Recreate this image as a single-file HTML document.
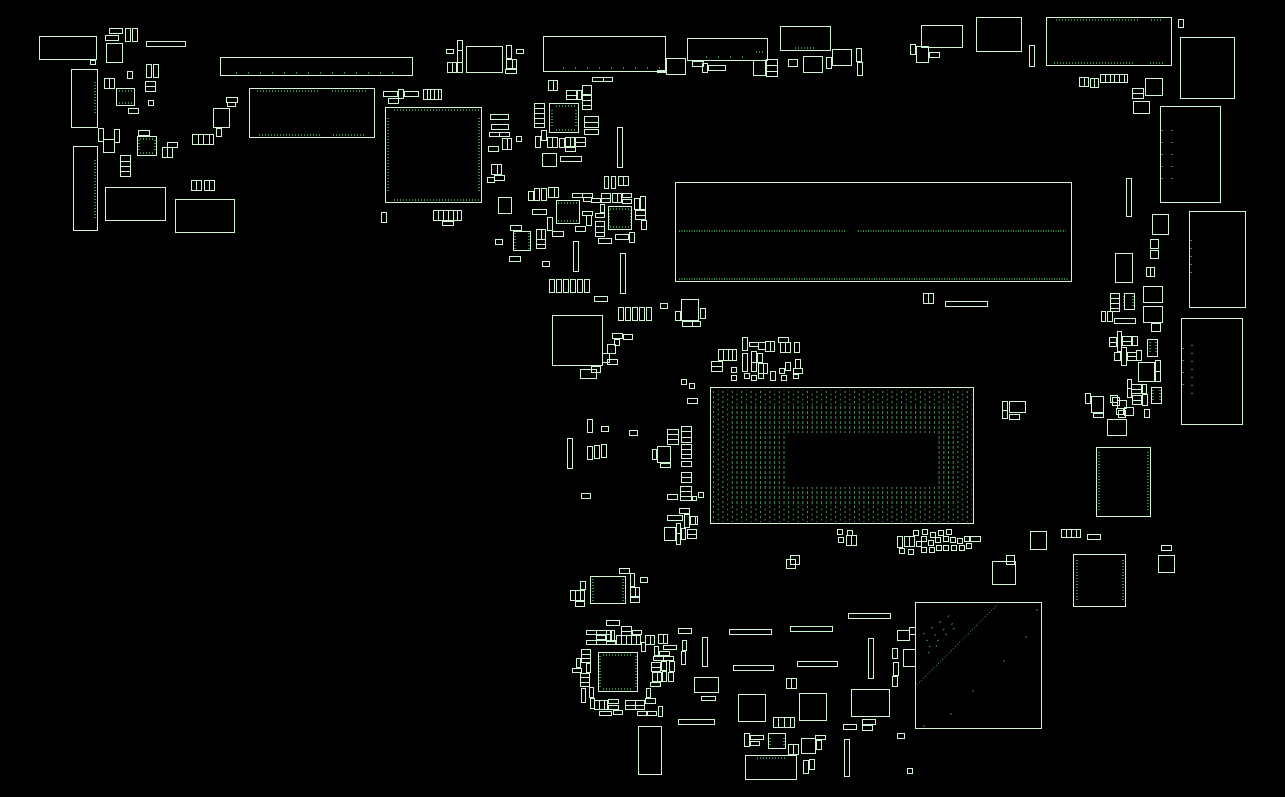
<!DOCTYPE html>
<html lang="en"><head><meta charset="utf-8"><title>PCB layout</title>
<style>html,body{margin:0;padding:0;background:#000;width:1285px;height:797px;overflow:hidden}svg{display:block}</style></head>
<body>
<svg xmlns="http://www.w3.org/2000/svg" width="1285" height="797" viewBox="0 0 1285 797">
<defs>
<pattern id="a" width="9.4" height="5" patternUnits="userSpaceOnUse" x="713" y="391"><rect width="1" height="2" fill="#4a9a58"/><rect x="4.7" y="2.5" width="1" height="2" fill="#3f8f4e"/></pattern>
<pattern id="b" width="4.7" height="5" patternUnits="userSpaceOnUse" x="713" y="391"><rect width="1" height="3" fill="#3f8f4e"/></pattern>
</defs>
<rect width="1285" height="797" fill="#000"/>
<g shape-rendering="crispEdges">
<path fill="url(#a)" fill-rule="evenodd" d="M712 390H972V522H712ZM728 405V505H956V405Z"/>
<path fill="url(#b)" fill-rule="evenodd" d="M728 405H956V505H728ZM787 433V487H938V433Z"/>
<g fill="none" stroke="#2f8a45" stroke-width="1">
<path stroke-width="2" stroke-dasharray="1 1.5" d="M679 231H846M858 231H1066M679 279H1068"/>
<path stroke-width="2" stroke-dasharray="1 2" d="M1056 20H1138M1151 20H1162M1054 63H1135M1150 63H1163M257 91H318M332 91H367M259 135H321M333 135H364M394 110H480M394 200H480M388 118V192M479 118V192M95 82V115M95 160V218"/>
<path stroke-width="2" stroke-dasharray="1 11" d="M236 73H396M563 68H660M706 57H750M1162 130V180M1172 130V180M1183 348V395"/>
<path stroke-width="2" stroke-dasharray="1 7" d="M1192 345V400M1191 240V280"/>
<path stroke-width="2" stroke-dasharray="1 2" d="M795 48H816M756 52H764M556 106H575M556 130H575M552 110V128M576 110V128M140 139H155M140 153H155M139 140V152M155 140V152M119 91H133M119 103H133M593 579V601M623 579V601M603 655H632M603 689H632M600 656V688M636 656V688M558 203H578M558 221H578M610 209H630M610 227H630M609 210V226M631 210V226M515 233V249M529 233V249M1099 452V512M1148 452V512M1077 560V602M1123 560V602M757 758H785M770 738V746M784 738V746M1124 296V306M1133 296V306M1150 342V354M1156 342V354M1153 390V402M1160 390V402"/>
<path stroke-width="1" stroke-dasharray="1 2" d="M917 685L998 604"/>
<path stroke-width="1" stroke-dasharray="2 8" d="M923 634L950 615M926 641L955 622M929 647L960 624M928 653L944 640M1037 609V612M1026 636V639M1004 660V663M973 690V693M951 713V716M924 725V728"/>
</g>
</g>
<path transform="translate(.5 .5)" fill="none" stroke="#d0f5d4" stroke-width="1" shape-rendering="crispEdges" d="
M39 36H96V59H39ZM90 60H95V64H90ZM109 28H122V33H109ZM105 35H118V40H105ZM125 28H130V41H125ZM132 28H137V41H132ZM146 41H185V46H146ZM106 43H122V62H106ZM71 69H97V127H71ZM104 78H114V88H104ZM109 78V88M127 71H132V78H127ZM146 64H151V77H146ZM153 64H158V77H153ZM145 81H155V91H145ZM145 86H155M116 88H134V105H116ZM148 100H153V105H148ZM128 108H138V113H128ZM98 128H103V141H98ZM114 129H119V142H114ZM103 139H114V152H103ZM138 130H149V135H138ZM137 136H156V155H137ZM167 142H177V147H167ZM162 147H172V157H162ZM167 147V157M192 134H213V144H192ZM198 134V144M203 134V144M209 134V144M120 155H130V176H120ZM120 161H130M120 166H130M120 171H130M73 146H97V230H73ZM105 187H165V220H105ZM175 199H234V232H175ZM191 180H201V190H191ZM196 180V190M204 180H214V190H204ZM209 180V190M220 57H412V75H220ZM249 88H374V137H249ZM213 108H229V127H213ZM226 97H237V102H226ZM227 102H235V106H227ZM216 128H221V136H216ZM385 107H481V202H385ZM383 91H397V96H383ZM398 89H403V98H398ZM404 91H418V96H404ZM388 98H398V103H388ZM423 89H441V99H423ZM427 89V99M430 89V99M434 89V99M438 89V99M381 212H386V222H381Z
M446 49H453V53H446ZM457 40H462V72H457ZM457 50H462M457 62H462M447 62H456V72H447ZM452 62V72M466 46H502V72H466ZM506 45H511V58H506ZM506 59H516V68H506ZM512 59V68M505 69H516V73H505ZM516 49H523V53H516ZM543 36H665V71H543ZM592 77H612V81H592ZM603 77V81M548 80H557V90H548ZM553 80V90M566 90H576V99H566ZM566 95H576M577 90H581V99H577ZM582 85H591V94H582ZM582 95H591V109H582ZM582 100H591M582 105H591M534 103H544V127H534ZM534 108H544M534 113H544M534 118H544M534 123H544M549 103H578V132H549ZM584 116H598V127H584ZM584 122H598M584 129H598V134H584ZM535 136H540V147H535ZM541 130H546V140H541ZM547 137H557V147H547ZM552 137V147M559 138H564V147H559ZM565 137H574V146H565ZM570 137V146M575 137H585V146H575ZM575 142H585M565 147H575V151H565ZM542 153H556V166H542ZM560 156H581V161H560ZM617 127H622V167H617ZM490 114H508V119H490ZM491 124H508V129H491ZM489 132H509V136H489ZM499 132V136M502 138H511V149H502ZM507 138V149M516 136H521V141H516ZM488 146H498V151H488ZM491 164H501V174H491ZM497 164V174M494 175H504V180H494ZM487 177H494V182H487ZM433 210H461V220H433ZM438 210V220M443 210V220M448 210V220M453 210V220M457 210V220M442 221H453V225H442ZM498 197H511V213H498ZM528 191H533V200H528ZM534 188H539V200H534ZM541 188H546V200H541ZM548 187H558V197H548ZM554 187V197M532 209H546V214H532ZM556 200H579V223H556ZM572 193H592V197H572ZM582 193V197M583 197H591V201H583ZM591 198H600V202H591ZM601 193H610V202H601ZM601 198H610M612 193H621V202H612ZM617 193V202M622 193H631V197H622ZM622 199H631V203H622ZM604 176H608V188H604ZM611 176H615V188H611ZM618 176H628V185H618ZM623 176V185M634 198H639V209H634ZM640 196H645V209H640ZM635 210H645V219H635ZM635 215H645M641 220H646V229H641ZM608 206H631V229H608ZM582 211H592V215H582ZM600 204H604V212H600ZM595 213H604V217H595ZM586 215H591V225H586ZM595 221H604V236H595ZM595 226H604M595 232H604M575 226H585V231H575ZM547 217H552V230H547ZM552 231H563V236H552ZM536 229H545V248H536ZM541 229V239M536 239H545M536 244H545M510 225H521V230H510ZM513 231H530V250H513ZM495 239H502V244H495ZM509 256H520V261H509ZM542 261H549V266H542ZM573 241H578V271H573ZM598 238H611V243H598ZM615 234H628V239H615ZM629 232H634V242H629ZM549 279H554V292H549ZM556 279H561V292H556ZM563 279H568V292H563ZM570 279H575V292H570ZM577 279H582V292H577ZM584 279H589V292H584ZM620 253H625V293H620ZM594 296H607V301H594Z
M618 307H623V320H618ZM625 307H630V320H625ZM632 307H637V320H632ZM639 307H644V320H639ZM646 307H651V320H646ZM660 303H667V308H660ZM681 299H698V320H681ZM675 311H680V320H675ZM700 308H705V318H700ZM682 321H700V326H682ZM692 321V326M552 315H602V365H552ZM612 333H622V338H612ZM623 334H632V339H623ZM614 339H619V345H614ZM607 344H615V353H607ZM602 353H609V362H602ZM607 359H617V364H607ZM591 366H600V372H591ZM580 369H596V378H580ZM681 379H686V384H681ZM689 383H694V388H689ZM687 398H697V403H687ZM587 419H592V432H587ZM601 426H608V431H601ZM629 430H637V435H629ZM567 438H572V468H567ZM587 446H592V459H587ZM594 445H599V458H594ZM601 444H606V457H601ZM581 493H590V498H581ZM667 429H678V444H667ZM667 434H678M667 439H678M681 426H691V442H681ZM681 431H691M681 437H691M681 444H691V458H681ZM681 449H691M681 454H691M657 446H670V462H657ZM652 449H656V459H652ZM660 463H670V467H660ZM681 461H691V466H681ZM681 472H691V482H681ZM681 477H691M680 486H691V500H680ZM680 491H691M680 496H696V500H692V496M667 494H677V499H667ZM698 492H703V497H698ZM679 508H689V513H679ZM667 515H682V520H667ZM684 514H689V527H684ZM690 516H697V524H690ZM695 516V524M676 523H680V544H676ZM676 533H680M664 527H675V540H664ZM681 528H685V539H681ZM687 529H696V538H687ZM687 534H696M710 387H973V523H710Z
M742 337H747V350H742ZM749 342H758V346H749ZM758 342H765V349H758ZM765 341H774V351H765ZM770 341V351M778 337H788V342H778ZM780 342H790V352H780ZM785 342V352M794 342H799V352H794ZM718 349H736V360H718ZM723 349V360M728 349V360M732 349V360M711 361H722V371H711ZM711 366H722M742 353H747V371H742ZM751 351H756V371H751ZM751 362H756M757 353H762V362H757ZM758 363H767V373H758ZM763 363V373M731 367H736V372H731ZM731 375H736V380H731ZM744 373H749V378H744ZM751 375H756V380H751ZM758 373H763V378H758ZM770 371H775V380H770ZM779 368H784V373H779ZM785 362H790V370H785ZM781 375H786V380H781ZM795 359H800V368H795ZM793 368H802V373H793ZM793 374H798V378H793ZM837 529H842V534H837ZM838 537H843V542H838ZM847 530H852V535H847ZM846 535H856V545H846ZM851 535V545M897 536H902V547H897ZM904 536H914V546H904ZM909 536V546M899 548H904V553H899ZM908 549H913V554H908ZM913 530H918V535H913ZM922 529H927V534H922ZM930 532H935V537H930ZM938 530H943V535H938ZM946 529H951V534H946ZM921 536H926V541H921ZM916 541H921V546H916ZM928 540H933V545H928ZM935 537H940V542H935ZM943 536H948V541H943ZM950 537H955V542H950ZM957 538H962V543H957ZM964 536H969V541H964ZM970 536H980V541H970ZM966 543H971V548H966ZM959 545H964V550H959ZM951 545H956V550H951ZM943 545H948V550H943ZM936 545H941V550H936ZM929 547H934V552H929ZM921 547H926V552H921ZM790 555H799V564H790ZM786 559H795V568H786Z
M619 568H629V573H619ZM590 576H625V603H590ZM630 573H634V586H630ZM630 587H639V596H630ZM635 587V596M630 597H639V602H630ZM640 577H647V582H640ZM580 581H585V589H580ZM570 590H584V600H570ZM575 590V600M580 590V600M575 601H584V606H575ZM606 620H619V625H606ZM621 626H631V635H621ZM621 631H631M586 630H610V634H586ZM596 630V634M606 630H610V641H606ZM611 630H614V641H611ZM632 630H641V634H632ZM586 640H615V644H586ZM596 640V644M606 640V644M596 635H605V639H596ZM616 635H640V644H616ZM621 635V644M626 635V644M631 635V644M636 635V644M641 642H645V651H641ZM645 635H654V644H645ZM650 635V644M658 634H667V643H658ZM663 634V643M663 645H676V649H663ZM654 646H658V655H654ZM659 651H669V655H659ZM653 656H673V660H653ZM663 656V660M651 662H660V671H651ZM651 667H660M661 661H666V670H661ZM669 661H674V671H669ZM652 672H661V681H652ZM657 672V681M662 671H666V681H662ZM668 672H673V681H668ZM650 682H660V686H650ZM646 688H650V697H646ZM645 698H655V703H645ZM658 706H662V716H658ZM647 711H656V715H647ZM637 711H646V715H637ZM625 700H644V709H625ZM635 700V709M625 705H644M613 710H622V714H613ZM599 711H611V715H599ZM608 699H618V703H608ZM608 705H618V709H608ZM594 700H607V709H594ZM599 700V709M604 700V709M590 698H594V708H590ZM589 687H593V697H589ZM581 688H585V702H581ZM580 673H589V686H580ZM580 677H589M580 682H589M572 668H581V672H572ZM576 658H580V667H576ZM581 649H590V662H581ZM581 654H590M581 658H590M586 663H590V672H586ZM598 652H637V691H598ZM678 628H691V633H678ZM682 640H686V650H682ZM681 651H685V664H681ZM702 637H707V666H702ZM694 677H718V692H694ZM701 696H715V700H701ZM678 719H714V724H678Z
M729 629H771V634H729ZM790 626H832V631H790ZM848 613H890V618H848ZM733 665H773V670H733ZM797 661H837V666H797ZM868 638H873V678H868ZM915 602H1041V728H915ZM897 630H909V640H897ZM909 627H915V634H909ZM903 649H915V666H903ZM892 648H897V658H892ZM893 662H898V675H893ZM892 676H897V686H892ZM786 678H796V688H786ZM791 678V688M738 694H765V721H738ZM799 693H826V720H799ZM851 689H889V716H851ZM773 717H794V727H773ZM778 717V727M784 717V727M790 717V727M843 724H856V729H843ZM862 719H875V724H862ZM862 725H872V730H862ZM897 733H904V738H897ZM907 768H912V773H907ZM744 733H749V746H744ZM750 735H763V739H750ZM750 741H759V745H750ZM768 733H785V748H768ZM788 744H798V754H788ZM793 744V754M801 738H815V753H801ZM815 735H825V739H815ZM816 740H821V749H816ZM844 739H849V776H844ZM745 755H796V779H745ZM803 760H808V773H803ZM809 759H814V769H809ZM638 726H661V774H638Z
M675 182H1071V281H675ZM666 58H685V74H666ZM657 70H665V72H657ZM687 38H767V60H687ZM692 61H703V66H692ZM702 63H707V72H702ZM708 65H725V70H708ZM753 60H765V75H753ZM766 59H777V76H766ZM766 65H777M766 71H777M788 59H797V66H788ZM780 26H830V50H780ZM803 56H822V72H803ZM826 57H831V68H826ZM832 49H851V65H832ZM856 48H861V61H856ZM857 62H862V75H857ZM921 25H962V47H921ZM910 44H915V54H910ZM916 46H928V62H916ZM929 52H939V57H929ZM976 17H1021V51H976ZM1029 45H1034V66H1029ZM1046 17H1171V65H1046ZM1178 19H1183V27H1178ZM1180 37H1234V98H1180Z
M1079 77H1088V86H1079ZM1084 77V86M1090 78H1098V87H1090ZM1094 78V87M1100 74H1127V82H1100ZM1105 74V82M1110 74V82M1114 74V82M1119 74V82M1124 74V82M1132 88H1143V98H1132ZM1132 93H1143M1145 78H1162V95H1145ZM1133 101H1149V113H1133ZM1160 106H1220V202H1160ZM1126 178H1131V216H1126ZM1152 214H1168V234H1152ZM1189 211H1245V307H1189ZM1150 239H1158V248H1150ZM1150 250H1158V258H1150ZM1115 253H1132V282H1115ZM1146 267H1154V276H1146ZM1150 267V276M1143 286H1162V302H1143ZM1143 306H1162V322H1143ZM1151 323H1160V331H1151ZM1110 293H1119V311H1110ZM1110 298H1119M1110 303H1119M1110 308H1119M1124 293H1134V309H1124ZM1101 311H1105V321H1101ZM1107 311H1112V321H1107ZM1114 318H1135V323H1114ZM1181 318H1242V424H1181ZM1117 331H1121V351H1117ZM1109 337H1116V346H1109ZM1109 342H1116M1122 336H1131V345H1122ZM1122 341H1131M1132 336H1137V345H1132ZM1114 352H1120V360H1114ZM1121 347H1126V365H1121ZM1127 352H1136V360H1127ZM1127 356H1136M1136 350H1141V360H1136ZM1147 339H1157V356H1147ZM1138 362H1154V381H1138ZM1155 360H1160V381H1155ZM1155 371H1160M1127 379H1131V397H1127ZM1127 388H1131M1131 384H1141V393H1131ZM1131 389H1141M1142 384H1146V393H1142ZM1132 395H1141V404H1132ZM1132 400H1141M1142 394H1147V405H1142ZM1151 387H1161V403H1151ZM1144 409H1149V417H1144ZM1085 393H1090V403H1085ZM1091 396H1103V412H1091ZM1093 413H1103V417H1093ZM1110 395H1117V402H1110ZM1112 397H1119V405H1112ZM1117 400H1126V408H1117ZM1116 408H1123V414H1116ZM1118 410H1125V417H1118ZM1124 407H1133V415H1124ZM1107 419H1126V435H1107ZM1096 447H1150V516H1096Z
M923 293H933V303H923ZM928 293V303M945 301H987V306H945ZM1002 401H1007V418H1002ZM1002 410H1007M1009 401H1025V412H1009ZM1009 414H1019V419H1009ZM1030 531H1046V549H1030ZM1061 529H1080V537H1061ZM1066 529V537M1071 529V537M1076 529V537M1087 534H1100V539H1087ZM1161 545H1171V550H1161ZM1158 555H1174V572H1158ZM1073 554H1125V606H1073ZM992 561H1015V584H992ZM1006 555H1014V564H1006Z"/>
</svg>
</body></html>
